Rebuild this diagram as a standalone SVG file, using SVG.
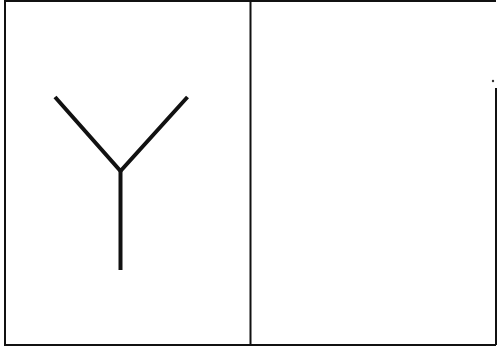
<svg xmlns="http://www.w3.org/2000/svg" width="497" height="348" viewBox="0 0 497 348">
<style>
.frame{fill:none;stroke:#111;stroke-width:2}
.glyph{fill:none;stroke:#111;stroke-width:4;stroke-linecap:butt;stroke-linejoin:miter}
</style>
<rect width="497" height="348" fill="#fff"/>
<g id="frame">
<polyline class="frame" points="496,1 5,1 5,345 496,345"/>
<line class="frame" x1="496" y1="88" x2="496" y2="345"/>
<line class="frame" x1="250.5" y1="1" x2="250.5" y2="345"/>
<circle cx="493" cy="81" r="1.2" fill="#333"/>
</g>
<g id="y-shape">
<polyline class="glyph" points="55,97 120.5,171 187.5,97"/>
<line class="glyph" x1="120.5" y1="170" x2="120.5" y2="270"/>
</g>
</svg>
